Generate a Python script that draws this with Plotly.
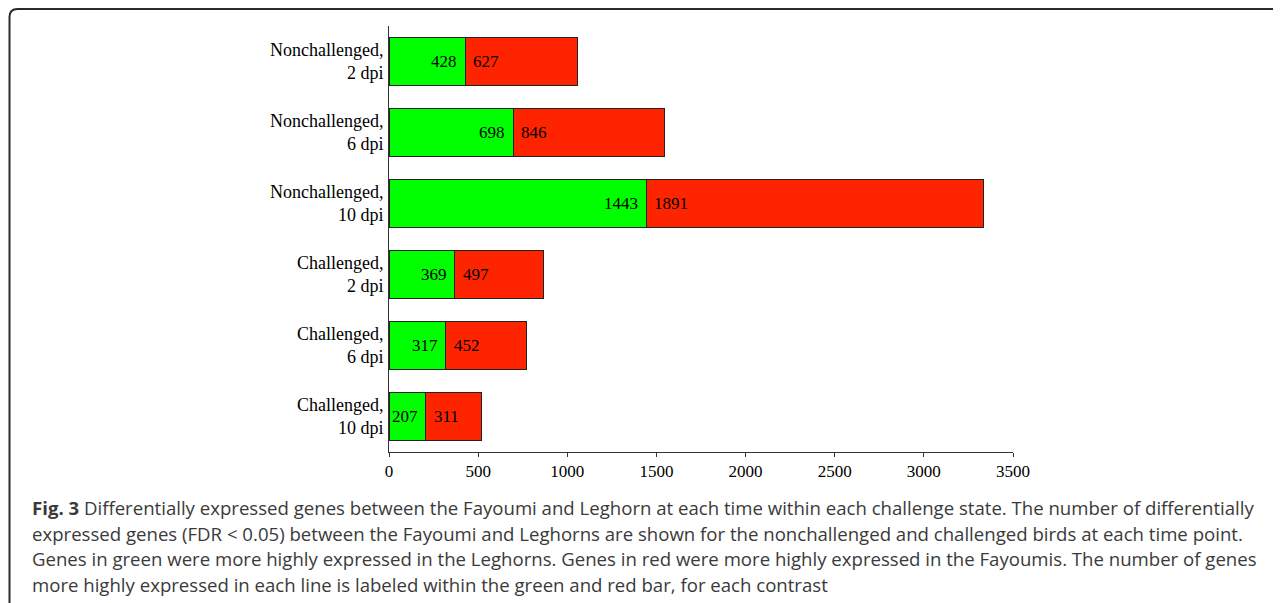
import plotly.graph_objects as go

categories = ["Nonchallenged,<br>2 dpi", "Nonchallenged,<br>6 dpi", "Nonchallenged,<br>10 dpi",
              "Challenged,<br>2 dpi", "Challenged,<br>6 dpi", "Challenged,<br>10 dpi"]
leghorn_higher = [428, 698, 1443, 369, 317, 207]   # green
fayoumi_higher = [627, 846, 1891, 497, 452, 311]   # red
x_ticks = [0, 500, 1000, 1500, 2000, 2500, 3000, 3500]

caption_lines = [
    "<b>Fig. 3</b> Differentially expressed genes between the Fayoumi and Leghorn at each time within each challenge state. The number of differentially",
    "expressed genes (FDR < 0.05) between the Fayoumi and Leghorns are shown for the nonchallenged and challenged birds at each time point.",
    "Genes in green were more highly expressed in the Leghorns. Genes in red were more highly expressed in the Fayoumis. The number of genes",
    "more highly expressed in each line is labeled within the green and red bar, for each contrast",
]

# page body has an 8px margin; figure coordinates = screenshot coordinates - 8
W, H = 1273, 595
L, R, T, B = 381, 1273 - 1005, 18, 595 - 444
pw, ph = W - L - R, H - T - B

def px(x):
    return (x - L) / pw

def py(y):
    return (H - B - y) / ph

SERIF = "Liberation Serif"

fig = go.Figure()
fig.add_trace(go.Bar(y=categories, x=leghorn_higher, orientation="h",
                     marker=dict(color="#00FF00", line=dict(color="#222", width=1)),
                     hoverinfo="x+y", showlegend=False))
fig.add_trace(go.Bar(y=categories, x=fayoumi_higher, orientation="h",
                     marker=dict(color="#FF2400", line=dict(color="#222", width=1)),
                     hoverinfo="x+y", showlegend=False))

annotations = []
for c, g, r in zip(categories, leghorn_higher, fayoumi_higher):
    annotations.append(dict(x=g, y=c, xref="x", yref="y", text=str(g), showarrow=False,
                            xanchor="right", xshift=-6, font=dict(family=SERIF, size=17, color="black")))
    annotations.append(dict(x=g, y=c, xref="x", yref="y", text=str(r), showarrow=False,
                            xanchor="left", xshift=6, font=dict(family=SERIF, size=17, color="black")))

cap_y = [499, 525, 550, 576]
for line, yy in zip(caption_lines, cap_y):
    annotations.append(dict(x=px(22), y=py(yy), xref="paper", yref="paper", text=line,
                            showarrow=False, xanchor="left", yanchor="middle", align="left",
                            font=dict(family="Open Sans", size=18.6, color="#3a3a3a")))

# rounded frame (top-left corner), continues off the page
x0, y0, x1, y1 = px(1.5), py(1), px(1400), py(700)
rx, ry = 8 / pw, 8 / ph
path = (f"M {x0},{y1} L {x0},{y0 - ry} Q {x0},{y0} {x0 + rx},{y0} L {x1},{y0}")

fig.update_layout(
    width=W, height=H,
    margin=dict(l=L, r=R, t=T, b=B, pad=0),
    barmode="stack", bargap=0.33,
    plot_bgcolor="white", paper_bgcolor="white",
    xaxis=dict(range=[0, 3500], tickvals=x_ticks, ticks="outside", ticklen=4, tickcolor="#333",
               showline=True, linecolor="#333", linewidth=1, showgrid=False, zeroline=False,
               tickfont=dict(family=SERIF, size=17, color="black")),
    yaxis=dict(categoryorder="array", categoryarray=categories, autorange="reversed",
               showline=True, linecolor="#333", linewidth=1, showgrid=False, ticks="",
               ticklabelstandoff=1,
               tickfont=dict(family=SERIF, size=18, color="black")),
    annotations=annotations,
    shapes=[dict(type="path", path=path, xref="paper", yref="paper",
                 line=dict(color="#2a2a2a", width=2), layer="above")],
)

fig.write_html("out.html")
